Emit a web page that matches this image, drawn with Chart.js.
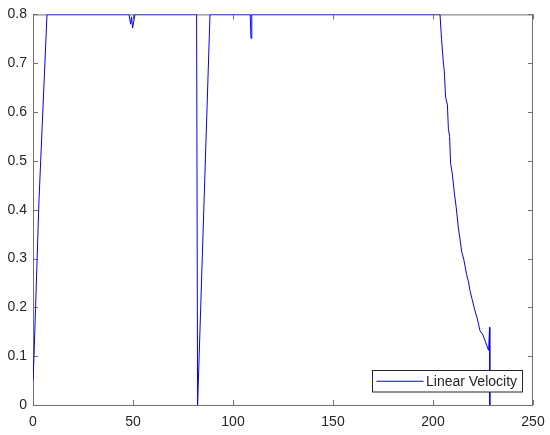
<!DOCTYPE html>
<html>
<head>
<meta charset="utf-8">
<script src="https://cdn.jsdelivr.net/npm/chart.js@4"></script>
<style>
  html, body { margin: 0; padding: 0; background: #fff; }
  #wrap { width: 550px; height: 435px; }
</style>
</head>
<body>
<div id="wrap"><canvas id="velocityChart" width="550" height="435"></canvas></div>
<script>
// Données (temps, vitesse linéaire)
const temps = [0, 0.5, 3, 7, 48, 48.8, 49.3, 49.8, 51, 81.8, 82.3, 88.5, 108.6, 109, 109.4,
  203.5, 204.3, 205.2, 205.6, 206.3, 207.2, 207.7, 208.3, 208.8, 209.6, 210.8, 211.6, 212.7,
  213.5, 214.3, 215.4, 216.8, 217.6, 218.5, 219.6, 221, 222.2, 223.5, 224.8, 226, 227.8, 228.3, 228.4];
const vitesse = [0.05, 0.1, 0.42, 0.8, 0.8, 0.78, 0.795, 0.772, 0.8, 0.8, 0, 0.8, 0.8, 0.751, 0.8,
  0.8, 0.748, 0.7, 0.687, 0.63, 0.615, 0.565, 0.55, 0.495, 0.475, 0.43, 0.405, 0.362,
  0.34, 0.315, 0.298, 0.267, 0.255, 0.234, 0.216, 0.193, 0.176, 0.152, 0.145, 0.132, 0.112, 0.159, 0];
const ticksX = [0, 50, 100, 150, 200, 250];
const ticksY = [0, 0.1, 0.2, 0.3, 0.4, 0.5, 0.6, 0.7, 0.8];
const nomSerie = 'Linear Velocity';

const points = temps.map((t, i) => ({ x: t, y: vitesse[i] }));
const couleurTexte = '#262626';
const couleurCadre = '#707070';
const police = '14px "Liberation Sans", Arial, sans-serif';

// Cadre, graduations intérieures (style MATLAB) et légende
const cadrePlugin = {
  id: 'cadre',
  beforeDatasetsDraw(chart) {
    const { ctx, chartArea: a, scales: { x, y } } = chart;
    ctx.save();
    ctx.strokeStyle = couleurCadre;
    ctx.lineWidth = 1;
    ctx.strokeRect(a.left + 0.5, a.top + 0.5, a.right - a.left - 1, a.bottom - a.top);
    ctx.beginPath();
    ticksX.forEach(v => {
      const px = Math.round(x.getPixelForValue(v)) + 0.5;
      ctx.moveTo(px, a.bottom); ctx.lineTo(px, a.bottom - 5);
      ctx.moveTo(px, a.top); ctx.lineTo(px, a.top + 5);
    });
    ticksY.forEach(v => {
      const py = Math.round(y.getPixelForValue(v)) + 0.5;
      ctx.moveTo(a.left, py); ctx.lineTo(a.left + 5, py);
      ctx.moveTo(a.right, py); ctx.lineTo(a.right - 5, py);
    });
    ctx.stroke();
    ctx.restore();
  },
  afterDatasetsDraw(chart) {
    const { ctx, chartArea: a } = chart;
    const bx = a.right - 160.5, by = a.bottom - 34.5, bw = 150, bh = 21.5;
    ctx.save();
    ctx.fillStyle = '#fff';
    ctx.fillRect(bx, by, bw, bh);
    ctx.strokeStyle = couleurTexte;
    ctx.lineWidth = 1;
    ctx.strokeRect(bx, by, bw, bh);
    ctx.strokeStyle = '#0000ff';
    ctx.beginPath();
    ctx.moveTo(bx + 4, by + bh / 2);
    ctx.lineTo(bx + 51, by + bh / 2);
    ctx.stroke();
    ctx.fillStyle = couleurTexte;
    ctx.font = police;
    ctx.textBaseline = 'middle';
    ctx.fillText(nomSerie, bx + 53.5, by + bh / 2 + 0.5);
    ctx.restore();
  }
};

new Chart(document.getElementById('velocityChart'), {
  type: 'line',
  data: {
    datasets: [{
      label: nomSerie,
      data: points,
      borderColor: '#0000ff',
      borderWidth: 1,
      pointRadius: 0,
      tension: 0,
      fill: false
    }]
  },
  options: {
    responsive: false,
    animation: false,
    layout: { padding: { top: 11, right: 17, left: 0, bottom: 0 } },
    plugins: { legend: { display: false }, tooltip: { enabled: false } },
    scales: {
      x: {
        type: 'linear',
        min: 0, max: 250,
        afterBuildTicks: s => { s.ticks = ticksX.map(v => ({ value: v })); },
        afterFit: s => { s.height = 30; s.paddingLeft = 0; s.paddingRight = 0; },
        grid: { display: false, drawTicks: false },
        border: { display: false },
        ticks: { color: couleurTexte, padding: 9, maxRotation: 0, font: { family: '"Liberation Sans", Arial', size: 14 } }
      },
      y: {
        type: 'linear',
        min: 0, max: 0.8,
        afterBuildTicks: s => { s.ticks = ticksY.map(v => ({ value: v })); },
        afterFit: s => { s.width = 33; },
        grid: { display: false, drawTicks: false },
        border: { display: false },
        ticks: { color: couleurTexte, padding: 6, font: { family: '"Liberation Sans", Arial', size: 14 } }
      }
    }
  },
  plugins: [cadrePlugin]
});
</script>
</body>
</html>
